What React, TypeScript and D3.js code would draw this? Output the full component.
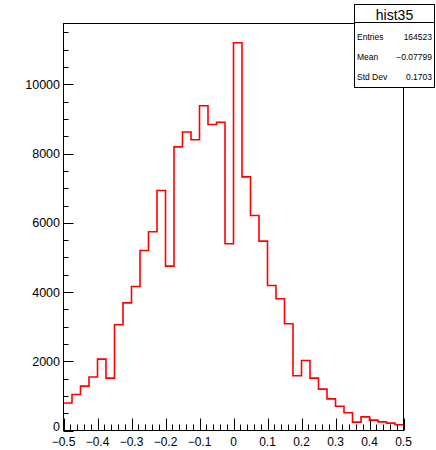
import React from "react";
import * as d3 from "d3";

const binLow = -0.5;
const binHigh = 0.5;
const counts = [
  795, 1040, 1281, 1546, 2062, 1513, 3054, 3689, 4162, 5202,
  5742, 6936, 4749, 8194, 8627, 8401, 9384, 8840, 8906, 5395,
  11204, 7327, 6214, 5472, 4191, 3805, 3083, 1580, 2023, 1513,
  1195, 915, 700, 515, 241, 395, 300, 250, 212, 168,
];
const xTickLabels = ["\u22120.5", "\u22120.4", "\u22120.3", "\u22120.2", "\u22120.1", "0", "0.1", "0.2", "0.3", "0.4", "0.5"];
const xTickValues = [-0.5, -0.4, -0.3, -0.2, -0.1, 0, 0.1, 0.2, 0.3, 0.4, 0.5];
const yTickValues = [0, 2000, 4000, 6000, 8000, 10000];
const yMax = 11760;
const statsTitle = "hist35";
const statsLabels = ["Entries", "Mean", "Std Dev"];
const statsValues = ["164523", "\u22120.07799", "0.1703"];

const W = 436;
const H = 450;
const L = 63.5, R = 403.5, T = 23.5, B = 430.5;
const FONT = "'Liberation Sans', Arial, Helvetica, sans-serif";

export default function App() {
  const x = d3.scaleLinear().domain([binLow, binHigh]).range([L, R]);
  const y = d3.scaleLinear().domain([0, yMax]).range([B, T]);
  const n = counts.length;
  const bw = (binHigh - binLow) / n;

  let d = "";
  counts.forEach((c, i) => {
    const x0 = x(binLow + i * bw);
    const x1 = x(binLow + (i + 1) * bw);
    const yy = y(c);
    d += (i === 0 ? `M${x0},${yy}` : `L${x0},${yy}`) + `L${x1},${yy}`;
  });

  const xMinor = d3.range(0, 51).map((k) => binLow + k * 0.02);
  const yMinor = d3.range(0, Math.floor(yMax / 500) + 1).map((k) => k * 500);

  return (
    <svg width={W} height={H} style={{ position: "absolute", left: 0, top: 0, background: "#fff" }} fontFamily={FONT}>
      <rect x={0} y={0} width={W} height={H} fill="#fff" />
      {xMinor.map((v, i) => {
        const major = i % 5 === 0;
        const xx = Math.round(x(v)) + 0.5;
        return <line key={"xm" + i} x1={xx} x2={xx} y1={B} y2={B - (major ? 12 : 6)} stroke="#000" strokeWidth={1} />;
      })}
      {yMinor.map((v, i) => {
        const major = v % 2000 === 0;
        const yy = Math.round(y(v)) + 0.5;
        return <line key={"ym" + i} x1={L} x2={L + (major ? 10 : 5)} y1={yy} y2={yy} stroke="#000" strokeWidth={1} />;
      })}
      <path d={d} fill="none" stroke="#ff0000" strokeWidth={1.6} />
      <rect x={L} y={T} width={R - L} height={B - T} fill="none" stroke="#000" strokeWidth={1} />
      {xTickValues.map((v, i) => (
        <text key={"xl" + i} x={x(v)} y={446} fontSize={12} textAnchor="middle" fill="#000">
          {xTickLabels[i]}
        </text>
      ))}
      {yTickValues.map((v, i) => (
        <text key={"yl" + i} x={60} y={y(v) - (v === 0 ? 4 : 0)} dy="0.36em" fontSize={12.5} textAnchor="end" fill="#000">
          {d3.format("d")(v)}
        </text>
      ))}
      <rect x={354.5} y={4.5} width={80} height={83} fill="#fff" stroke="#000" strokeWidth={1} />
      <line x1={354.5} x2={434.5} y1={22.5} y2={22.5} stroke="#000" strokeWidth={1} />
      <text x={394.5} y={19.5} fontSize={14} textAnchor="middle" fill="#000">{statsTitle}</text>
      {statsLabels.map((lab, i) => (
        <g key={"st" + i}>
          <text x={357} y={37 + i * 20} dy="0.35em" fontSize={8.5} fill="#000">{lab}</text>
          <text x={432} y={37 + i * 20} dy="0.35em" fontSize={8.5} textAnchor="end" fill="#000">{statsValues[i]}</text>
        </g>
      ))}
    </svg>
  );
}
